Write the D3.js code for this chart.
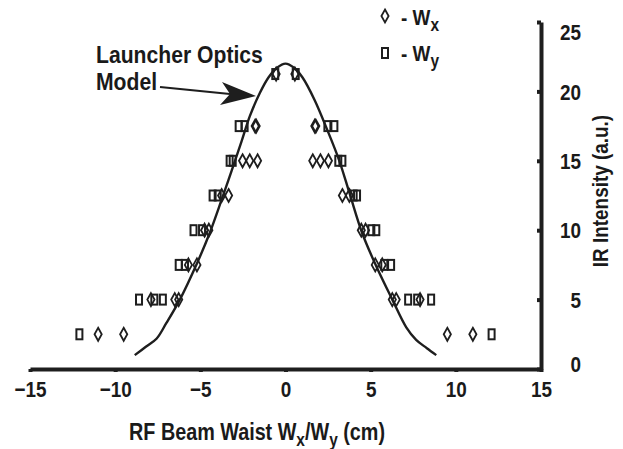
<!DOCTYPE html>
<html>
<head>
<meta charset="utf-8">
<script src="https://cdn.jsdelivr.net/npm/d3@7"></script>
<style>
  body { margin: 0; background: #fff; }
  svg text { font-family: "Liberation Sans", Arial, sans-serif; font-weight: bold; fill: #1a1a1a; }
</style>
</head>
<body>
<div id="chart"></div>
<script>
// tick values
const xTicks = [-15, -10, -5, 0, 5, 10, 15];
const yTicks = [0, 5, 10, 15, 20, 25];

// measured points, Wx (diamonds)
const wxX = [-0.55, 0.55,
    -1.78, -1.72, 1.72, 1.78,
    -2.52, -2.1, -1.64, 1.6, 2.05, 2.52,
    -3.75, -3.34, 3.34, 3.75,
    -4.75, -4.5, 4.45, 4.7,
    -5.7, -5.2, 5.27, 5.68,
    -7.9, -6.5, -6.27, 6.27, 6.5, 7.9,
    -11.0, -9.5, 9.5, 11.0];
const wxY = [21.25, 21.25,
    17.5, 17.5, 17.5, 17.5,
    15, 15, 15, 15, 15, 15,
    12.5, 12.5, 12.5, 12.5,
    10, 10, 10, 10,
    7.5, 7.5, 7.5, 7.5,
    5, 5, 5, 5, 5, 5,
    2.5, 2.5, 2.5, 2.5];

// measured points, Wy (squares)
const wyX = [-0.6, 0.6,
    -2.75, -2.4, 2.46, 2.87,
    -3.28, -3.1, 3.1, 3.34,
    -4.28, -3.98, 4.0, 4.2,
    -5.4, -4.9, 5.04, 5.33,
    -6.27, -5.9, 5.8, 6.2,
    -8.6, -7.7, -7.2, 7.2, 7.73, 8.55,
    -12.1, 12.1];
const wyY = [21.25, 21.25,
    17.5, 17.5, 17.5, 17.5,
    15, 15, 15, 15,
    12.5, 12.5, 12.5, 12.5,
    10, 10, 10, 10,
    7.5, 7.5, 7.5, 7.5,
    5, 5, 5, 5, 5, 5,
    2.5, 2.5];

// launcher optics model curve
const modelX = [-8.85, -8.2, -7.56, -7.0, -6.2, -5.2, -4.45, -3.75, -3.16, -2.58, -2.1, -1.5, -1.0, -0.5, 0,
    0.5, 1.0, 1.7, 2.46, 3.16, 3.75, 4.5, 5.33, 6.27, 7.09, 7.67, 8.3, 8.85];
const modelY = [1.0, 1.6, 2.2, 3.3, 5.0, 7.6, 9.8, 12.2, 14.3, 16.4, 18.2, 19.9, 21.0, 21.7, 22.0,
    21.7, 21.0, 19.4, 17.2, 15.0, 12.7, 9.8, 7.4, 5.0, 3.0, 2.1, 1.5, 1.0];

const width = 623, height = 449;
const ink = "#1e1e1e";
const squeeze = 0.86;   // the original uses a condensed bold face

const svg = d3.select("#chart")
    .append("svg")
    .attr("width", width)
    .attr("height", height);

const x = d3.scaleLinear().domain([-15, 15]).range([30, 541]);
const y = d3.scaleLinear().domain([0, 25]).range([369, 22]);

// x axis
const gx = svg.append("g")
    .attr("transform", `translate(0, ${y(0)})`)
    .call(d3.axisBottom(x).tickValues(xTicks).tickSize(3).tickSizeOuter(0).tickPadding(9)
        .tickFormat(d => d < 0 ? "\u2212" + Math.abs(d) : d));
gx.select(".domain").attr("stroke", ink).attr("stroke-width", 4);
gx.selectAll(".tick line").attr("stroke", ink).attr("stroke-width", 4);
gx.selectAll(".tick text")
    .style("font-size", "22px")
    .attr("transform", `scale(${squeeze},1)`)
    .attr("fill", "#1a1a1a");

// y axis, labels on the right of the line
const gy = svg.append("g")
    .attr("transform", `translate(${x(15)}, 0)`)
    .call(d3.axisRight(y).tickValues(yTicks).tickSize(-4).tickSizeOuter(0));
gy.select(".domain").attr("stroke", ink).attr("stroke-width", 4);
gy.selectAll(".tick line").attr("stroke", ink).attr("stroke-width", 4);
gy.selectAll(".tick text")
    .style("font-size", "22px")
    .attr("text-anchor", "end")
    .attr("x", 40 / squeeze)
    .attr("transform", `scale(${squeeze},1)`)
    .attr("dy", d => d === 25 ? "0.78em" : d === 0 ? "0.1em" : "0.35em")
    .attr("fill", "#1a1a1a");

// axis titles
const xt = svg.append("text")
    .attr("transform", `translate(257, 440) scale(${squeeze},1)`)
    .attr("text-anchor", "middle")
    .style("font-size", "23px");
xt.append("tspan").text("RF Beam Waist W");
xt.append("tspan").attr("dy", 6).style("font-size", "18px").text("x");
xt.append("tspan").attr("dy", -6).text("/W");
xt.append("tspan").attr("dy", 6).style("font-size", "18px").text("y");
xt.append("tspan").attr("dy", -6).text(" (cm)");

svg.append("text")
    .attr("transform", `translate(608, 191) rotate(-90) scale(${squeeze},1)`)
    .attr("text-anchor", "middle")
    .style("font-size", "22px")
    .text("IR Intensity (a.u.)");

// model curve
const line = d3.line()
    .x((d, i) => x(modelX[i]))
    .y((d, i) => y(modelY[i]))
    .curve(d3.curveCatmullRom);
svg.append("path")
    .datum(modelX)
    .attr("d", line)
    .attr("fill", "none")
    .attr("stroke", ink)
    .attr("stroke-width", 2.4);

// markers
const diamond = "M0,-6.5L3.6,0L0,6.5L-3.6,0Z";
svg.append("g").selectAll("path")
    .data(wxX)
    .join("path")
    .attr("d", diamond)
    .attr("transform", (d, i) => `translate(${x(d)}, ${y(wxY[i])})`)
    .attr("fill", "none")
    .attr("stroke", ink)
    .attr("stroke-width", 1.8);

svg.append("g").selectAll("rect")
    .data(wyX)
    .join("rect")
    .attr("x", d => x(d) - 3)
    .attr("y", (d, i) => y(wyY[i]) - 5)
    .attr("width", 6)
    .attr("height", 10)
    .attr("fill", "none")
    .attr("stroke", ink)
    .attr("stroke-width", 2);

// legend
svg.append("path")
    .attr("d", diamond)
    .attr("transform", "translate(385, 16)")
    .attr("fill", "none").attr("stroke", ink).attr("stroke-width", 1.8);
svg.append("rect")
    .attr("x", 382).attr("y", 48).attr("width", 6).attr("height", 10)
    .attr("fill", "none").attr("stroke", ink).attr("stroke-width", 2);
const lx = svg.append("text")
    .attr("transform", `translate(401, 25) scale(${squeeze},1)`)
    .style("font-size", "22px");
lx.append("tspan").text("- W");
lx.append("tspan").attr("dy", 6).style("font-size", "18px").text("x");
const ly = svg.append("text")
    .attr("transform", `translate(401, 61) scale(${squeeze},1)`)
    .style("font-size", "22px");
ly.append("tspan").text("- W");
ly.append("tspan").attr("dy", 6).style("font-size", "18px").text("y");

// annotation
const ann = svg.append("text")
    .attr("transform", `translate(96, 0) scale(0.92,1)`)
    .style("font-size", "23px");
ann.append("tspan").attr("x", 0).attr("y", 63).text("Launcher Optics");
ann.append("tspan").attr("x", 0).attr("y", 90).text("Model");

svg.append("line")
    .attr("x1", 160).attr("y1", 87).attr("x2", 230).attr("y2", 94)
    .attr("stroke", ink).attr("stroke-width", 2.2);
svg.append("path")
    .attr("d", "M222,82L256,96L220,105L230,94Z")
    .attr("fill", ink);
</script>
</body>
</html>
